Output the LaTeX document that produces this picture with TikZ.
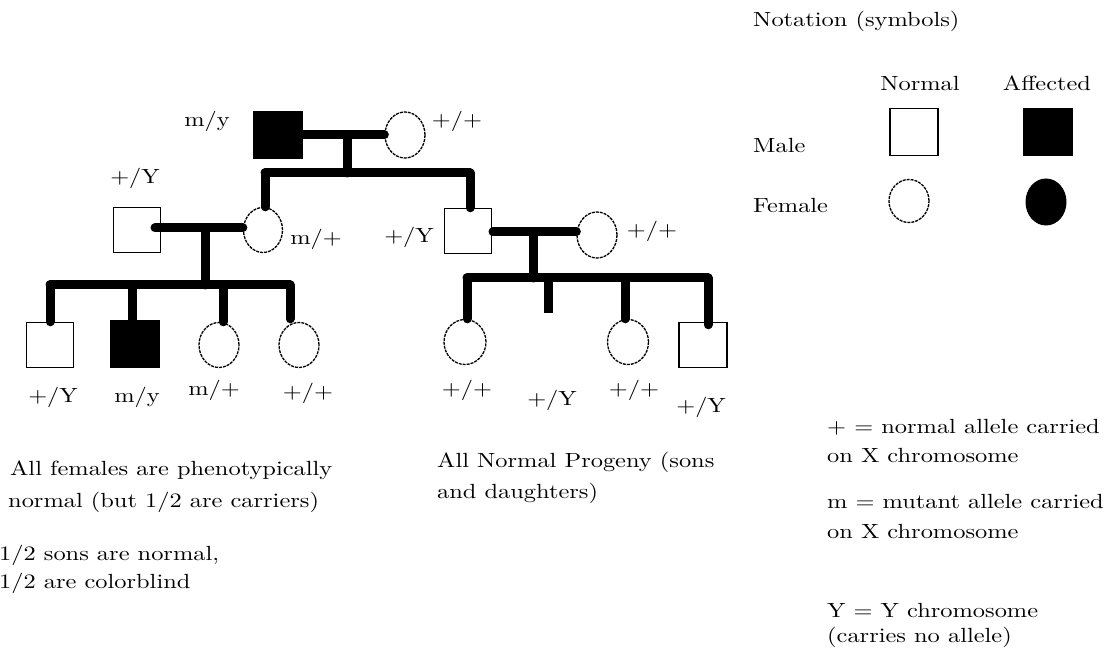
\documentclass[tikz,border=0pt]{standalone}
\usepackage{fontspec}
\setmainfont{lmroman10-regular.otf}[FakeStretch=1.19]
\usetikzlibrary{shapes.geometric,calc}
\newcommand\lmfont{\fontsize{20.5}{24}\selectfont}
\tikzset{
  male/.style={draw, line width=1.4pt, rectangle, minimum width=47pt, minimum height=45pt, inner sep=0pt},
  maleA/.style={male, fill=black},
  female/.style={draw, ellipse, line width=1.3pt, dash pattern=on 3pt off 1pt, minimum width=40pt, minimum height=45pt, inner sep=0pt},
  femaleA/.style={draw, ellipse, line width=1pt, fill=black, minimum width=40pt, minimum height=46pt, inner sep=0pt},
  link/.style={line width=9pt, line cap=round},
  lbl/.style={anchor=base, inner sep=0pt, font=\lmfont},
  txt/.style={anchor=base west, inner sep=0pt, font=\lmfont},
}
\begin{document}
\begin{tikzpicture}[x=1pt,y=-1pt]
\useasboundingbox[fill=white] (0,0) rectangle (1106,652);

% ---------- individuals ----------
% generation 1
\node[maleA, minimum width=48pt, minimum height=46pt] (F1) at (278,135) {};
\node[female, minimum height=46pt] (M1) at (405,135) {};
% generation 2
\node[male] (S2a) at (137,230) {};
\node[female, minimum width=39pt] (C2a) at (263,230) {};
\node[male] (S2b) at (468,231) {};
\node[female, minimum height=46pt] (C2b) at (597,235) {};
% generation 3 left
\node[male] (Q1) at (50,345) {};
\node[maleA, minimum width=48pt, minimum height=46pt] (Q2) at (135,344) {};
\node[female] (K1) at (219,345) {};
\node[female] (K2) at (299,345) {};
% generation 3 right
\node[female, minimum width=42pt] (D1) at (465,342) {};
\node[female, minimum width=41pt] (D2) at (628,342) {};
\node[male, minimum width=48pt] (Q3) at (703,345) {};

% ---------- connectors ----------
\coordinate (J1) at (347,135);
\coordinate (J1b) at (347,173);
\coordinate (G2L) at (265,173);
\coordinate (G2R) at (470,173);
\draw[link] (F1.east) -- (M1.west);
\draw[link] (J1) -- (J1b);
\draw[link] (G2L) -- (G2R);
\draw[link] (G2L) -- (G2L |- C2a.north);
\draw[link] (G2R) -- (G2R |- S2b.north);

\coordinate (P2a) at (155,228);
\coordinate (J2) at (205,228);
\coordinate (J2b) at (205,285);
\coordinate (G3L) at (50,285);
\coordinate (G3R) at (290,285);
\draw[link] (P2a) -- (P2a -| C2a.west);
\draw[link] (J2) -- (J2b);
\draw[link] (G3L) -- (G3R);
\draw[link] (G3L) -- (Q1.north);
\coordinate (T2) at (132,285);
\draw[link] (T2) -- (T2 |- Q2.north);
\coordinate (T3) at (223,285);
\draw[link] (T3) -- (T3 |- K1.north);
\draw[link] (G3R) -- ($(G3R |- K2.north)+(0,-3)$);

\coordinate (P2b) at (493,232);
\coordinate (J3) at (533,232);
\coordinate (J3b) at (533,278);
\coordinate (H3L) at (467,278);
\coordinate (H3R) at (708,278);
\coordinate (Stub) at (548,278);
\coordinate (StubEnd) at (548,313);
\draw[link] (P2b) -- (P2b -| C2b.west);
\draw[link] (J3) -- (J3b);
\draw[link] (H3L) -- (H3R);
\draw[link] (H3L) -- (H3L |- D1.north);
\draw[link, line cap=butt] (Stub) -- (StubEnd);
\coordinate (U3) at (625,278);
\draw[link] (U3) -- (U3 |- D2.north);
\draw[link] (H3R) -- ($(H3R |- Q3.north)+(0,3)$);

% ---------- genotype labels ----------
\node[lbl] (l1) at (207,127) {m/y};
\node[lbl] (l2) at (457,127) {+/+};
\node[lbl] (l3) at (135,184) {+/Y};
\node[lbl] (l4) at (316,245) {m/+};
\node[lbl] (l5) at (409,243) {+/Y};
\node[lbl] (l6) at (652,237) {+/+};
\node[lbl] (l7) at (53,402) {+/Y};
\node[lbl] (l8) at (137,402) {m/y};
\node[lbl] (l9) at (214,395) {m/+};
\node[lbl] (l10) at (308,398) {+/+};
\node[lbl] (l11) at (467,395) {+/+};
\node[lbl] (l12) at (552,405) {+/Y};
\node[lbl] (l13) at (634,395) {+/+};
\node[lbl] (l14) at (701,412) {+/Y};

% ---------- legend ----------
\node[txt] (nt) at (753,27) {Notation (symbols)};
\node[lbl] (nn) at (920,91) {Normal};
\node[lbl] (na) at (1047,91) {Affected};
\node[txt] (nm) at (753,153) {Male};
\node[txt] (nf) at (753,213) {Female};
\node[male, minimum width=48pt, minimum height=47pt] (LS) at (914,132) {};
\node[maleA, minimum width=49pt, minimum height=47pt] (LSA) at (1048,132) {};
\node[female, minimum height=43pt] (LC) at (909,201) {};
\node[femaleA] (LCA) at (1046,202) {};

% ---------- notes ----------
\node[txt] (a1) at (10,475) {All females are phenotypically};
\node[txt] (a2) at (8,507) {normal (but 1/2 are carriers)};
\node[txt] (a3) at (-1,560) {1/2 sons are normal,};
\node[txt] (a4) at (-1,588) {1/2 are colorblind};
\node[txt] (b1) at (437,467) {All Normal Progeny (sons};
\node[txt] (b2) at (437,498) {and daughters)};
\node[txt] (c1) at (827,433) {+ = normal allele carried};
\node[txt] (c2) at (827,462) {on X chromosome};
\node[txt] (c3) at (827,508) {m = mutant allele carried};
\node[txt] (c4) at (827,538) {on X chromosome};
\node[txt] (c5) at (827,617) {Y = Y chromosome};
\node[txt] (c6) at (827,642) {(carries no allele)};
\end{tikzpicture}
\end{document}
